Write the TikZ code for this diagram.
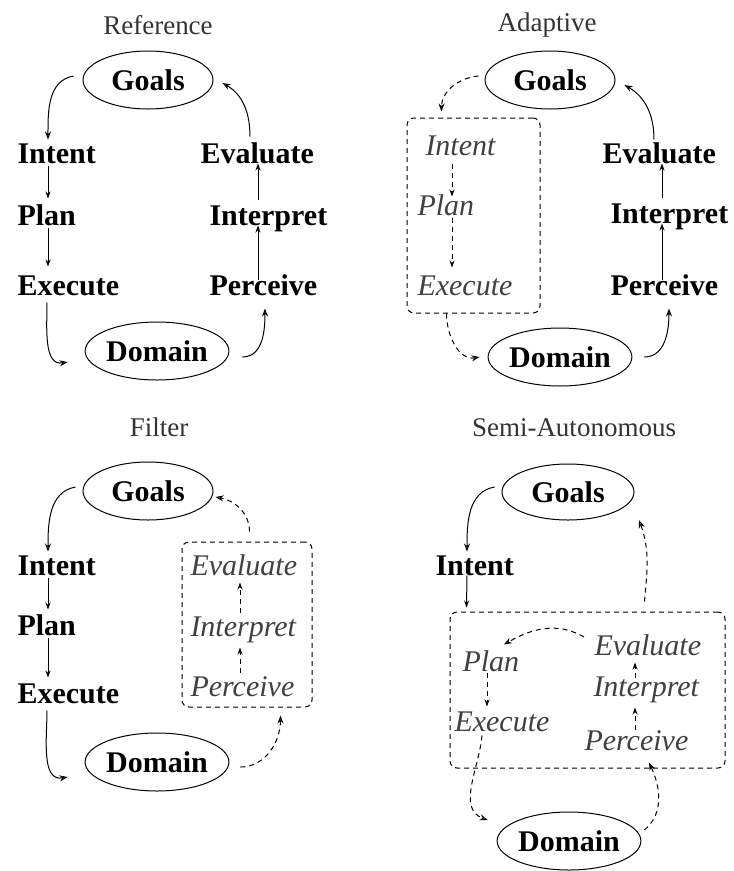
\documentclass[tikz,border=0pt]{standalone}
\usepackage{fontspec}
\setmainfont{Liberation Serif}
\usetikzlibrary{arrows.meta,shapes.geometric}

\begin{document}
\begin{tikzpicture}[x=1pt, y=-1pt, line width=1pt,
  >={Stealth[length=7pt, width=5pt]},
  title/.style={font=\fontsize{27}{32}\selectfont, text=black!80},
  bigstep/.style={anchor=west, inner xsep=0pt, inner ysep=2pt, text height=21pt, text depth=5pt,
    font=\fontsize{30}{36}\selectfont\bfseries},
  substep/.style={bigstep, font=\fontsize{30}{36}\selectfont\itshape, text=black!75},
  world/.style={ellipse, draw, inner sep=0pt, minimum width=130pt, minimum height=58pt,
    font=\fontsize{30}{36}\selectfont\bfseries},
  group/.style={draw, dash pattern=on 5pt off 4pt, rounded corners=7pt, inner sep=0pt},
  flow/.style={->},
  bent/.style={-{Stealth[open, length=8pt, width=6pt]}},
  soft/.style={dash pattern=on 5pt off 4pt}]
  \useasboundingbox (0,0) rectangle (734,871);

  % Reference
  \node[title] (rTitle) at (158,25) {Reference};
  \node[world] (rGoals) at (148,80) {Goals};
  \node[bigstep] (rIntent) at (17,155) {Intent};
  \node[bigstep] (rPlan) at (17,217) {Plan};
  \node[bigstep] (rExecute) at (17,287) {Execute};
  \node[world] (rDomain) at (157,351) {Domain};
  \node[bigstep] (rEvaluate) at (200,155) {Evaluate};
  \node[bigstep] (rInterpret) at (209,217) {Interpret};
  \node[bigstep] (rPerceive) at (209,287) {Perceive};
  \draw[bent] ([xshift=-9pt, yshift=4pt]rGoals.west) to[out=190, in=90] ([xshift=31pt]rIntent.north west);
  \draw[flow] ([xshift=31pt, yshift=5pt]rIntent.south west) -- ([xshift=31pt, yshift=3pt]rPlan.north west);
  \draw[flow] ([xshift=31pt, yshift=5pt]rPlan.south west) -- ([xshift=31pt, yshift=5pt]rExecute.north west);
  \draw[bent] ([xshift=30pt]rExecute.south west) to[out=-90, in=190] ([xshift=-17pt, yshift=-11pt]rDomain.west);
  \draw[bent] ([xshift=13pt, yshift=-6pt]rDomain.east) to[out=0, in=-90] ([xshift=56pt, yshift=-6pt]rPerceive.south west);
  \draw[flow] ([xshift=49pt, yshift=-8pt]rPerceive.north west) -- ([xshift=49pt, yshift=7pt]rInterpret.south west);
  \draw[flow] ([xshift=49pt, yshift=2pt]rInterpret.north west) -- ([xshift=58pt, yshift=7pt]rEvaluate.south west);
  \draw[bent] ([xshift=50pt, yshift=3pt]rEvaluate.north west) to[out=90, in=-30] ([xshift=9pt, yshift=-3pt]rGoals.east);

  % Adaptive
  \node[title] (aTitle) at (547,25) {Adaptive};
  \node[world] (aGoals) at (550,80) {Goals};
  \node[group, minimum width=133pt, minimum height=195pt] (aBox) at (473.5,215.5) {};
  \node[substep] (aIntent) at (425,147) {Intent};
  \node[substep] (aPlan) at (417,207) {Plan};
  \node[substep] (aExecute) at (417,287) {Execute};
  \node[world] (aDomain) at (560,357) {Domain};
  \node[bigstep] (aEvaluate) at (602,155) {Evaluate};
  \node[bigstep] (aInterpret) at (610,215) {Interpret};
  \node[bigstep] (aPerceive) at (610,287) {Perceive};
  \draw[bent, soft] ([xshift=-6pt, yshift=4pt]aGoals.west) to[out=185, in=90] ([xshift=35pt, yshift=6pt]aBox.north west);
  \draw[flow, soft] ([xshift=27pt, yshift=-1pt]aIntent.south west) -- ([xshift=35pt, yshift=-5pt]aPlan.north west);
  \draw[flow, soft] ([xshift=35pt, yshift=5pt]aPlan.south west) -- ([xshift=35pt, yshift=4pt]aExecute.north west);
  \draw[bent, soft] ([xshift=40pt]aBox.south west) to[out=-90, in=190] ([xshift=-8pt]aDomain.west);
  \draw[bent] ([xshift=12pt]aDomain.east) to[out=0, in=-90] ([xshift=59pt, yshift=-6pt]aPerceive.south west);
  \draw[flow] ([xshift=52pt, yshift=-8pt]aPerceive.north west) -- ([xshift=52pt, yshift=7pt]aInterpret.south west);
  \draw[flow] ([xshift=52pt, yshift=2pt]aInterpret.north west) -- ([xshift=60pt, yshift=7pt]aEvaluate.south west);
  \draw[bent] ([xshift=52pt]aEvaluate.north west) to[out=90, in=-30] ([xshift=9pt, yshift=-5pt]aGoals.east);

  % Filter
  \node[title] (fTitle) at (159,427) {Filter};
  \node[world] (fGoals) at (148,491) {Goals};
  \node[bigstep] (fIntent) at (17,567) {Intent};
  \node[bigstep] (fPlan) at (17,627) {Plan};
  \node[bigstep] (fExecute) at (17,695) {Execute};
  \node[world] (fDomain) at (157,762) {Domain};
  \node[group, minimum width=130pt, minimum height=165pt] (fBox) at (247,624.5) {};
  \node[substep] (fEvaluate) at (190,567) {Evaluate};
  \node[substep] (fInterpret) at (190,628) {Interpret};
  \node[substep] (fPerceive) at (190,688) {Perceive};
  \draw[bent] ([xshift=-7pt, yshift=4pt]fGoals.west) to[out=190, in=90] ([xshift=31pt]fIntent.north west);
  \draw[flow] ([xshift=31pt, yshift=5pt]fIntent.south west) -- ([xshift=31pt, yshift=2pt]fPlan.north west);
  \draw[flow] ([xshift=31pt, yshift=5pt]fPlan.south west) -- ([xshift=31pt, yshift=2pt]fExecute.north west);
  \draw[bent] ([xshift=30pt]fExecute.south west) to[out=-90, in=190] ([xshift=-17pt, yshift=-15pt]fDomain.west);
  \draw[bent, soft] ([xshift=11pt, yshift=-5pt]fDomain.east) to[out=0, in=-90] ([xshift=-32pt, yshift=-8pt]fBox.south east);
  \draw[flow, soft] ([xshift=50pt]fPerceive.north west) -- ([xshift=50pt, yshift=-4pt]fInterpret.south west);
  \draw[flow, soft] ([xshift=50pt]fInterpret.north west) -- ([xshift=50pt]fEvaluate.south west);
  \draw[bent, soft] ([xshift=68pt, yshift=10pt]fBox.north west) to[out=90, in=-10] ([xshift=2pt, yshift=-6pt]fGoals.east);

  % Semi-Autonomous
  \node[title] (sTitle) at (574,428) {Semi-Autonomous};
  \node[world, minimum width=132pt, minimum height=56pt] (sGoals) at (568,492) {Goals};
  \node[bigstep] (sIntent) at (435,567) {Intent};
  \node[group, minimum width=275pt, minimum height=156pt] (sBox) at (587.5,690) {};
  \node[substep] (sPlan) at (462,663) {Plan};
  \node[substep] (sExecute) at (454,723) {Execute};
  \node[substep] (sEvaluate) at (594,647) {Evaluate};
  \node[substep] (sInterpret) at (593,688) {Interpret};
  \node[substep] (sPerceive) at (584,742) {Perceive};
  \node[world] (sDomain) at (569,841) {Domain};
  \draw[bent] ([xshift=-7pt, yshift=5pt]sGoals.west) to[out=190, in=90] ([xshift=32pt]sIntent.north west);
  \draw[flow] ([xshift=32pt, yshift=7pt]sIntent.south west) -- ([xshift=17pt, yshift=4pt]sBox.north west);
  \draw[bent, soft] ([xshift=195pt, yshift=10pt]sBox.north west) to[out=85, in=-70] ([xshift=24pt, yshift=-8pt]sGoals.south east);
  \draw[bent, soft] ([xshift=-10pt, yshift=10pt]sEvaluate.west) to[out=150, in=30] ([xshift=42pt, yshift=3pt]sPlan.north west);
  \draw[flow, soft] ([xshift=25pt, yshift=6pt]sPlan.south west) -- ([xshift=33pt, yshift=1pt]sExecute.north west);
  \draw[bent, soft] ([xshift=28pt, yshift=3pt]sExecute.south west) to[out=-95, in=160] ([xshift=-9pt, yshift=21pt]sDomain.west);
  \draw[bent, soft] ([xshift=3pt, yshift=11pt]sDomain.east) to[out=40, in=-65] ([xshift=65pt, yshift=-5pt]sPerceive.south west);
  \draw[flow, soft] ([xshift=51pt, yshift=-3pt]sPerceive.north west) -- ([xshift=42pt, yshift=-4pt]sInterpret.south west);
  \draw[flow, soft] ([xshift=42pt, yshift=-5pt]sInterpret.north west) -- ([xshift=41pt]sEvaluate.south west);
\end{tikzpicture}
\end{document}
